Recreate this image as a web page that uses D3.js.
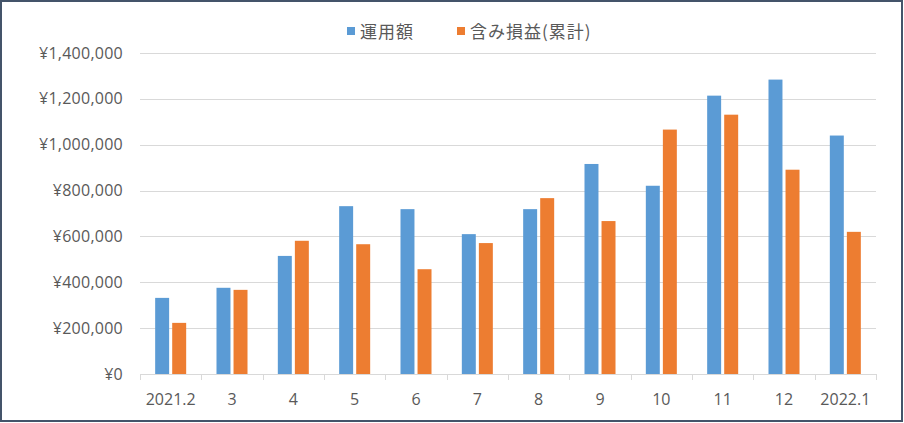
<!DOCTYPE html>
<html><head><meta charset="utf-8">
<script src="https://cdn.jsdelivr.net/npm/d3@7"></script>
<style>
html,body{margin:0;padding:0;background:#fff;}
svg{display:block;}
</style></head>
<body>
<svg id="chart" width="904" height="423"></svg>
<script>
const categories = ["2021.2","3","4","5","6","7","8","9","10","11","12","2022.1"];
const seriesNames = ["運用額","含み損益(累計)"];
const investment = [332000,376000,515000,732000,719000,610000,719000,916000,821000,1214000,1284000,1040000];
const unrealized = [223000,367000,581000,566000,457000,571000,767000,667000,1066000,1131000,891000,620000];
const yTicks = [0,200000,400000,600000,800000,1000000,1200000,1400000];
const colors = ["#5B9BD5","#ED7D31"];

const svg = d3.select("#chart");
const plotLeft = 140, plotRight = 876, plotTop = 53, plotBottom = 374;

svg.append("rect").attr("x",1).attr("y",1).attr("width",901).attr("height",420)
  .attr("fill","#fff").attr("stroke","#44546A").attr("stroke-width",2);

const y = d3.scaleLinear().domain([0,1400000]).range([plotBottom, plotTop]);
const x0 = d3.scaleBand().domain(categories).range([plotLeft, plotRight]).padding(0);
const x1 = d3.scaleBand().domain(seriesNames).range([0, x0.bandwidth()]).paddingInner(0.18).paddingOuter(0.89);

const fmt = v => "¥" + d3.format(",")(v);

// gridlines
svg.append("g").selectAll("line").data(yTicks.filter(d=>d>0)).join("line")
  .attr("x1",plotLeft).attr("x2",plotRight)
  .attr("y1",d=>Math.round(y(d))+0.5).attr("y2",d=>Math.round(y(d))+0.5)
  .attr("stroke","#D9D9D9").attr("stroke-width",1);

// y labels
svg.append("g").selectAll("text").data(yTicks).join("text")
  .attr("x",123).attr("y",d=>y(d)).attr("dy","0.35em")
  .attr("text-anchor","end")
  .attr("font-family","'Open Sans', sans-serif").attr("font-size",16)
  .attr("letter-spacing","0.25px")
  .attr("fill","#595959").text(fmt);

// bars
const data = categories.map((c,i)=>({c, vals:[investment[i], unrealized[i]]}));
const groups = svg.append("g").selectAll("g").data(data).join("g")
  .attr("transform", d=>`translate(${x0(d.c)},0)`);
groups.selectAll("rect").data(d=>d.vals.map((v,k)=>({k,v}))).join("rect")
  .attr("x",d=>x1(seriesNames[d.k])).attr("width",x1.bandwidth())
  .attr("y",d=>y(d.v)).attr("height",d=>plotBottom - y(d.v))
  .attr("fill",d=>colors[d.k]);

// x axis
const xAxisG = svg.append("g");
xAxisG.append("line").attr("x1",plotLeft).attr("x2",plotRight).attr("y1",plotBottom+0.5).attr("y2",plotBottom+0.5)
  .attr("stroke","#D9D9D9");
const bounds = categories.map(c=>x0(c)).concat([plotRight]);
xAxisG.selectAll("line.tick").data(bounds).join("line").attr("class","tick")
  .attr("x1",d=>Math.round(d)+0.5).attr("x2",d=>Math.round(d)+0.5)
  .attr("y1",plotBottom).attr("y2",plotBottom+6).attr("stroke","#D9D9D9");
xAxisG.selectAll("text").data(categories).join("text")
  .attr("x",d=>x0(d)+x0.bandwidth()/2).attr("y",405)
  .attr("text-anchor","middle")
  .attr("font-family","'Open Sans', sans-serif").attr("font-size",16)
  .attr("fill","#595959").text(d=>d);

// legend
const legendX = [347, 457];
const lg = svg.append("g").selectAll("g").data(seriesNames).join("g")
  .attr("transform",(d,i)=>`translate(${legendX[i]},0)`);
lg.append("rect").attr("x",0).attr("y",27).attr("width",8).attr("height",8).attr("fill",(d,i)=>colors[i]);
lg.append("text").attr("x",13).attr("y",32).attr("dy","0.36em")
  .attr("font-family","'Noto Sans CJK JP', sans-serif").attr("font-size",17)
  .attr("letter-spacing","1px")
  .attr("fill","#595959").text(d=>d);
</script>
</body></html>
